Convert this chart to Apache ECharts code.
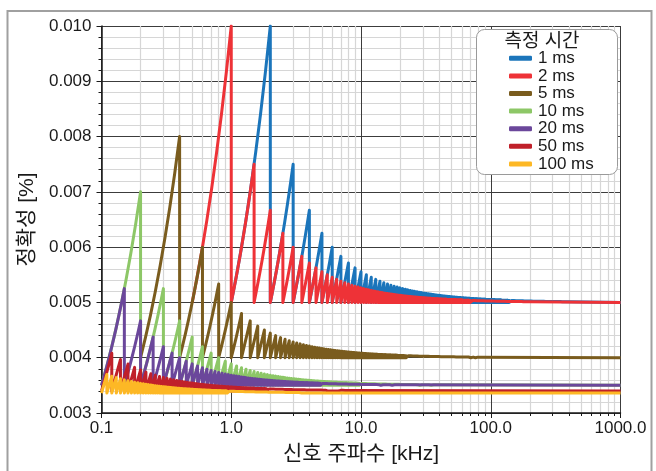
<!DOCTYPE html>
<html>
<head>
<meta charset="utf-8">
<script src="https://cdn.jsdelivr.net/npm/echarts@6/dist/echarts.min.js"></script>
<style>
html,body{margin:0;padding:0;background:#fff;}
#chart{width:656px;height:471px;}
</style>
</head>
<body>
<div id="chart"></div>
<script>
// ---- data ----
const seriesNames = ['1 ms', '2 ms', '5 ms', '10 ms', '20 ms', '50 ms', '100 ms'];
const measureTimeMs = [1, 2, 5, 10, 20, 50, 100];
// accuracy [%] when a whole number of cycles fits in the measurement time
const baseAccuracy = [0.005, 0.005, 0.004, 0.0035, 0.0035, 0.0034, 0.00336];
const seriesColors = ['#1B75BB', '#EE3237', '#7A5C1E', '#8DC767', '#6B479B', '#C0202A', '#FDB825'];
const freqRange = [0.1, 1000];           // kHz
const accRange = [0.003, 0.010];          // %
const xTickLabels = ['0.1', '1.0', '10.0', '100.0', '1000.0'];
const yTickLabels = ['0.003', '0.004', '0.005', '0.006', '0.007', '0.008', '0.009', '0.010'];

const FONT = "'Liberation Sans', Arial, 'Noto Sans CJK KR', sans-serif";

// accuracy = base * (cycles in window) / (whole cycles counted)
function buildSeries(T, base) {
  const pts = [];
  const nCap = 400;
  const f0 = Math.max(freqRange[0], 1 / T);
  let n = Math.max(1, Math.floor(f0 * T + 1e-9));
  pts.push([f0, base * f0 * T / n]);
  while (n < nCap) {
    const fEnd = (n + 1) / T;
    if (fEnd > freqRange[1]) break;
    const fStart = pts[pts.length - 1][0];
    if (n < 6) {
      const k = 8;
      for (let i = 1; i < k; i++) {
        const f = fStart * Math.pow(fEnd / fStart, i / k);
        pts.push([f, base * f * T / n]);
      }
    }
    pts.push([fEnd, base * (n + 1) / n]);
    pts.push([fEnd, base]);
    n++;
  }
  pts.push([freqRange[1], base]);
  return pts;
}

const series = seriesNames.map((name, i) => ({
  name: name,
  type: 'line',
  data: buildSeries(measureTimeMs[i], baseAccuracy[i]),
  showSymbol: false,
  symbol: 'none',
  silent: true,
  animation: false,
  clip: true,
  color: seriesColors[i],
  lineStyle: { width: 3, color: seriesColors[i], join: 'round' },
  emphasis: { disabled: true }
}));

const chart = echarts.init(document.getElementById('chart'), null, { renderer: 'canvas' });
chart.setOption({
  backgroundColor: '#ffffff',
  animation: false,
  grid: { left: 101.5, right: 35.5, top: 26, bottom: 58, containLabel: false },
  xAxis: {
    type: 'log',
    logBase: 10,
    min: freqRange[0],
    max: freqRange[1],
    name: '신호 주파수 [kHz]',
    nameLocation: 'middle',
    nameGap: 31,
    nameTextStyle: { fontFamily: FONT, fontSize: 21, color: '#1a1a1a' },
    axisLine: { show: true, onZero: false, lineStyle: { color: '#1a1a1a', width: 1.5 } },
    axisTick: { show: true, length: 5, lineStyle: { color: '#1a1a1a' } },
    minorTick: { show: true, splitNumber: 9, length: 3, lineStyle: { color: '#1a1a1a' } },
    axisLabel: {
      fontFamily: FONT, fontSize: 17, color: '#1a1a1a', margin: 7,
      formatter: function (v) {
        const idx = Math.round(Math.log10(v) - Math.log10(freqRange[0]));
        return xTickLabels[idx] !== undefined ? xTickLabels[idx] : '';
      }
    },
    splitLine: { show: true, lineStyle: { color: '#3c3c3c', width: 1 } },
    minorSplitLine: { show: true, lineStyle: { color: '#d6d6d6', width: 1.2 } }
  },
  yAxis: {
    type: 'value',
    min: accRange[0],
    max: accRange[1],
    interval: 0.001,
    name: '정확성 [%]',
    nameLocation: 'middle',
    nameRotate: 90,
    nameGap: 62,
    nameTextStyle: { fontFamily: FONT, fontSize: 21, color: '#1a1a1a', padding: [0, 0, 0, 0] },
    axisLine: { show: true, onZero: false, lineStyle: { color: '#1a1a1a', width: 1.5 } },
    axisTick: { show: true, length: 5, lineStyle: { color: '#1a1a1a' } },
    minorTick: { show: true, splitNumber: 5, length: 3, lineStyle: { color: '#1a1a1a' } },
    axisLabel: {
      fontFamily: FONT, fontSize: 17, color: '#1a1a1a', margin: 10,
      formatter: function (v) {
        const idx = Math.round((v - accRange[0]) / 0.001);
        return yTickLabels[idx] !== undefined ? yTickLabels[idx] : '';
      }
    },
    splitLine: { show: true, lineStyle: { color: '#3c3c3c', width: 1 } },
    minorSplitLine: { show: true, lineStyle: { color: '#d6d6d6', width: 1.2 } }
  },
  legend: {
    data: seriesNames,
    orient: 'vertical',
    left: 509,
    top: 49.5,
    padding: 0,
    itemGap: 0,
    itemWidth: 23,
    itemHeight: 5,
    icon: 'roundRect',
    selectedMode: false,
    z: 110,
    textStyle: { fontFamily: FONT, fontSize: 17, color: '#1a1a1a', lineHeight: 17.6, padding: [0, 0, 0, 1] }
  },
  graphic: [
    { type: 'rect', z: 100, silent: true,
      shape: { x: 7.5, y: 11, width: 644, height: 470 },
      style: { fill: null, stroke: '#a0a0a0', lineWidth: 2 } },
    { type: 'rect', z: 100, silent: true,
      shape: { x: 476.5, y: 29.5, width: 141, height: 145, r: 8 },
      style: { fill: '#ffffff', stroke: '#9a9a9a', lineWidth: 1 } },
    { type: 'text', z: 101, silent: true, x: 542, y: 42,
      style: { text: '측정 시간', fontFamily: FONT, fontSize: 19, fill: '#1a1a1a', align: 'center', verticalAlign: 'middle' } }
  ],
  series: series
});
</script>
</body>
</html>
